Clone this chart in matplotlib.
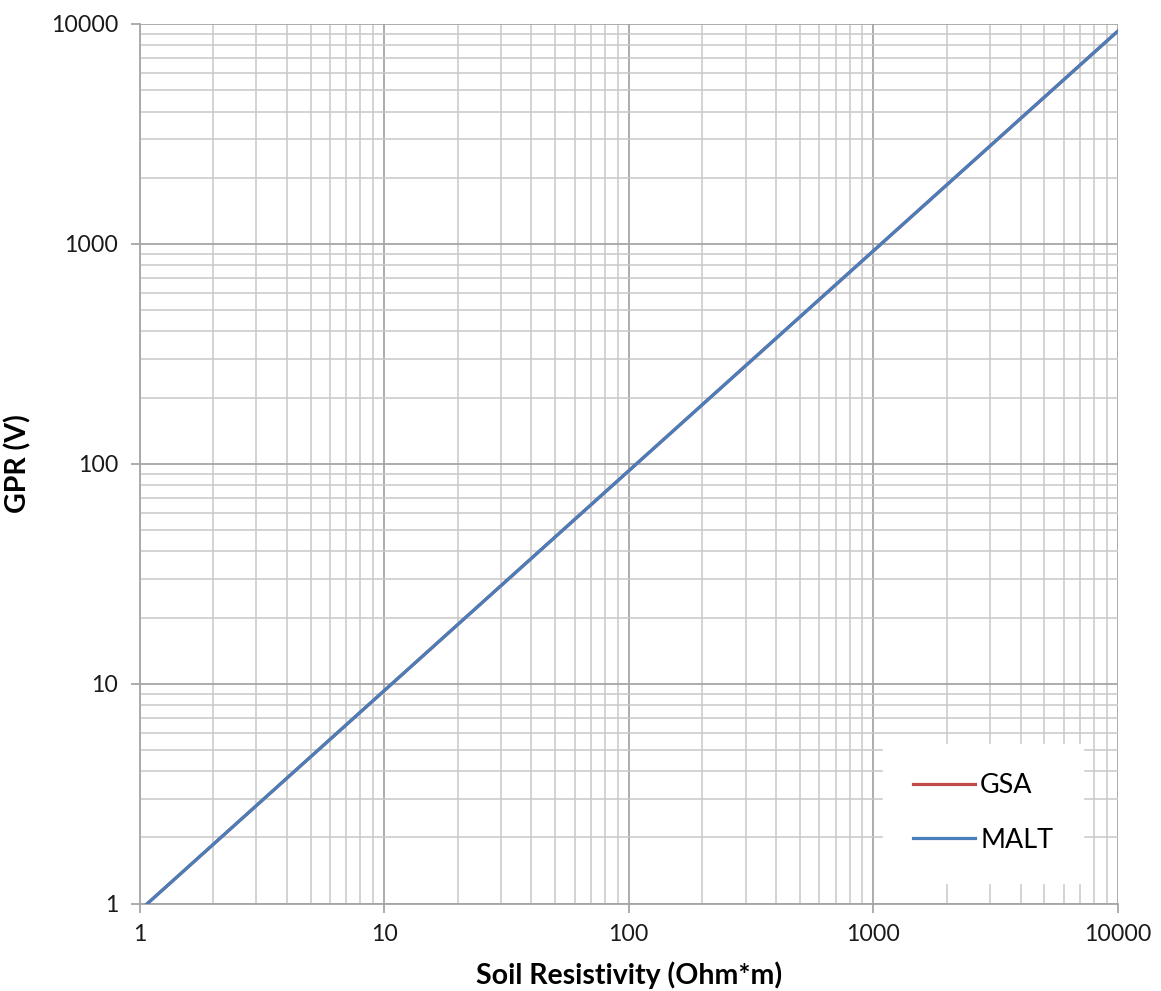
import matplotlib
matplotlib.use("Agg")
import matplotlib.pyplot as plt
from matplotlib.ticker import LogLocator, FixedLocator, NullFormatter

plt.rcParams['font.family'] = ['Lato', 'DejaVu Sans']

# Data
resistivity = [1, 10, 100, 1000, 10000]
gpr_gsa = [0.93, 9.3, 93, 930, 9300]
gpr_malt = [0.93, 9.3, 93, 930, 9300]
x_ticks = [1, 10, 100, 1000, 10000]
x_tick_labels = ["1", "10", "100", "1000", "10000"]
y_ticks = [1, 10, 100, 1000, 10000]
y_tick_labels = ["1", "10", "100", "1000", "10000"]

fig = plt.figure(figsize=(11.61, 9.91), dpi=100)
ax = fig.add_axes([0.1202, 0.0881, 0.963 - 0.1202, 0.9758 - 0.0881])

ax.plot(resistivity, gpr_gsa, color="#BE4B48", lw=2.3, label="GSA", zorder=3)
ax.plot(resistivity, gpr_malt, color="#4A7EBB", lw=2.3, label="MALT", zorder=4)

ax.set_xscale("log")
ax.set_yscale("log")
ax.set_xlim(1, 10000)
ax.set_ylim(1, 10000)

ax.xaxis.set_major_locator(FixedLocator(x_ticks))
ax.set_xticklabels(x_tick_labels)
ax.yaxis.set_major_locator(FixedLocator(y_ticks))
ax.set_yticklabels(y_tick_labels)
ax.xaxis.set_minor_locator(LogLocator(base=10, subs=range(2, 10), numticks=100))
ax.yaxis.set_minor_locator(LogLocator(base=10, subs=range(2, 10), numticks=100))
ax.xaxis.set_minor_formatter(NullFormatter())
ax.yaxis.set_minor_formatter(NullFormatter())

ax.grid(which="major", color="#A6A6A6", lw=1.3, zorder=0)
ax.grid(which="minor", color="#C8C8C8", lw=1.1, zorder=0)
ax.set_axisbelow(True)

for s in ["top", "right"]:
    ax.spines[s].set_visible(False)
for s in ["left", "bottom"]:
    ax.spines[s].set_color("#A6A6A6")
    ax.spines[s].set_linewidth(1.3)

ax.tick_params(which="major", direction="out", length=6.5, width=1.3, color="#A6A6A6",
               labelsize=16.7, labelcolor="#1a1a1a")
ax.tick_params(axis="x", which="major", pad=8)
ax.tick_params(axis="y", which="major", pad=9)
ax.tick_params(which="minor", length=0)

ax.set_xlabel("Soil Resistivity (Ohm*m)", fontsize=20.5, fontweight="bold", labelpad=12)
ax.set_ylabel("GPR (V)", fontsize=20.5, fontweight="bold", labelpad=14)

leg = ax.legend(loc="center", bbox_to_anchor=(0.862, 0.103), fontsize=19.4,
                frameon=True, fancybox=False, handlelength=2.3, handletextpad=0.2,
                labelspacing=1.1, borderpad=1.1, borderaxespad=0)
leg.get_frame().set_facecolor("white")
leg.get_frame().set_edgecolor("white")
leg.get_frame().set_alpha(1)

fig.savefig("out.png", dpi=100)
